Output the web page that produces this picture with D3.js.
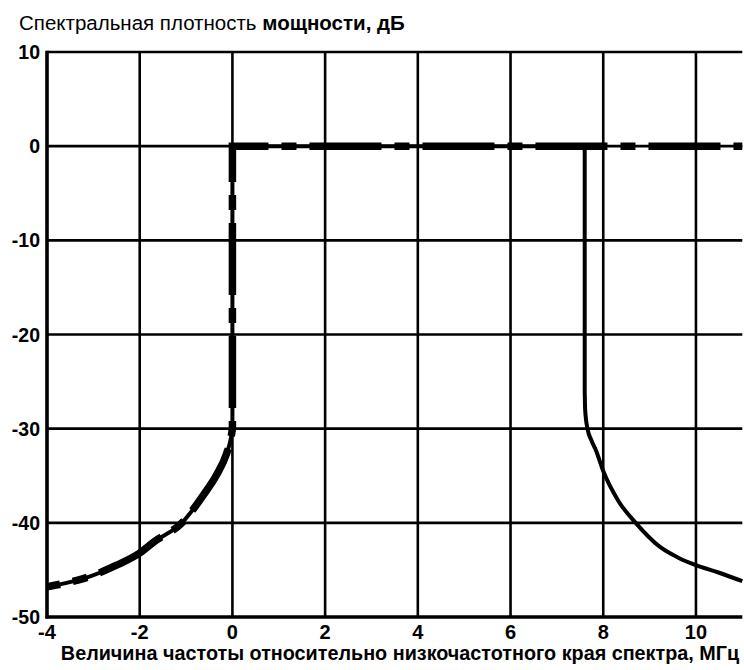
<!DOCTYPE html>
<html>
<head>
<meta charset="utf-8">
<script src="https://cdn.jsdelivr.net/npm/d3@7"></script>
<style>
  html, body { margin: 0; padding: 0; background: #fff; }
  svg { display: block; font-family: "Liberation Sans", Arial, sans-serif; }
</style>
</head>
<body>
<svg id="chart" width="744" height="670"></svg>
<script>
// Axis ticks
const freqTicks = [-4, -2, 0, 2, 4, 6, 8, 10];
const levelTicks = [10, 0, -10, -20, -30, -40, -50];

// Lower skirt shared by both masks (MHz, dB)
const lowSkirtFreq  = [-4, -3.6, -3.2, -2.5, -2.0, -1.69, -1.09, -0.62, -0.34, -0.13, -0.04, 0];
const lowSkirtLevel = [-46.8, -46.4, -45.9, -44.5, -43.2, -42.0, -40.0, -37.0, -34.9, -32.7, -31.2, -30];

// Passband
const bandLevel = 0;
const bandStart = 0;
const solidBandEnd = 7.6;
const dashedBandEnd = 11;

// Upper skirt of the solid mask (MHz, dB)
const highSkirtFreq  = [7.6, 7.61, 7.66, 7.75, 7.85, 8.0, 8.33, 8.7, 9.21, 9.62, 10.0, 10.5, 11.0];
const highSkirtLevel = [-26, -28, -30, -31.3, -32.4, -34.5, -37.7, -40, -42.5, -43.7, -44.5, -45.3, -46.2];

const svg = d3.select("#chart");
const x = d3.scaleLinear().domain([-4, 11]).range([47, 742.3]);
const y = d3.scaleLinear().domain([-50, 10]).range([617, 52]);

const X0 = x(-4), Y0 = y(-50), YT = y(10);

// Grid
const grid = svg.append("g").attr("stroke", "#000").attr("stroke-width", 2.6);
grid.selectAll("line.v").data(freqTicks.filter(d => d > -4)).join("line")
  .attr("x1", d => x(d)).attr("x2", d => x(d))
  .attr("y1", YT).attr("y2", Y0);
grid.selectAll("line.h").data(levelTicks.filter(d => d > -50)).join("line")
  .attr("x1", X0).attr("x2", x(11))
  .attr("y1", d => y(d)).attr("y2", d => y(d));

// Axes frame (left and bottom)
svg.append("line").attr("x1", X0).attr("x2", X0).attr("y1", YT - 1.3).attr("y2", Y0 + 1.5)
  .attr("stroke", "#000").attr("stroke-width", 3.6);
svg.append("line").attr("x1", X0 - 1.5).attr("x2", x(11)).attr("y1", Y0).attr("y2", Y0)
  .attr("stroke", "#000").attr("stroke-width", 3.4);

// Tick labels
svg.append("g").selectAll("text").data(levelTicks).join("text")
  .attr("x", X0 - 7).attr("y", d => y(d))
  .attr("text-anchor", "end").attr("dominant-baseline", "central")
  .attr("font-size", 19.5).attr("font-weight", "bold")
  .text(d => d);
svg.append("g").selectAll("text").data(freqTicks).join("text")
  .attr("x", d => x(d)).attr("y", 638.5)
  .attr("text-anchor", "middle")
  .attr("font-size", 20).attr("font-weight", "bold")
  .text(d => d);

// Titles
const title = svg.append("text").attr("x", 19).attr("y", 29.5).attr("font-size", 20.5);
title.append("tspan").text("Спектральная плотность ");
title.append("tspan").attr("font-weight", "bold").text("мощности, дБ");
svg.append("text").attr("x", 400).attr("y", 660).attr("text-anchor", "middle")
  .attr("font-size", 19.8).attr("font-weight", "bold")
  .text("Величина частоты относительно низкочастотного края спектра, МГц");

// Path builders
const smooth = d3.line().x(d => x(d[0])).y(d => y(d[1])).curve(d3.curveMonotoneX);
const straight = d3.line().x(d => x(d[0])).y(d => y(d[1]));
function joined(parts) {
  return parts.map((p, i) => i === 0 ? p : p.replace(/^M/, "L")).join("");
}
const lowSkirt = lowSkirtFreq.map((f, i) => [f, lowSkirtLevel[i]]);
const highSkirt = highSkirtFreq.map((f, i) => [f, highSkirtLevel[i]]);
const lowEnd = lowSkirt[lowSkirt.length - 1];

const solidD = joined([
  smooth(lowSkirt),
  straight([lowEnd, [bandStart, bandLevel], [solidBandEnd, bandLevel], highSkirt[0]]),
  smooth(highSkirt)
]);
const dashedD = joined([
  smooth(lowSkirt),
  straight([lowEnd, [bandStart, bandLevel], [dashedBandEnd, bandLevel]])
]);

svg.append("path").attr("d", solidD)
  .attr("fill", "none").attr("stroke", "#000").attr("stroke-width", 4)
  .attr("stroke-linejoin", "miter");

// Dash pattern placed so the corner at the band start sits inside a long dash
const pattern = [72, 13, 15, 13];
const period = d3.sum(pattern);
const probe = svg.append("path")
  .attr("d", joined([smooth(lowSkirt), straight([lowEnd, [bandStart, bandLevel]])]))
  .attr("fill", "none");
const cornerLen = probe.node().getTotalLength();
probe.remove();
const offset = ((pattern[0] / 2 - cornerLen) % period + period) % period;

svg.append("path").attr("d", dashedD)
  .attr("fill", "none").attr("stroke", "#000").attr("stroke-width", 7.5)
  .attr("stroke-linejoin", "miter")
  .attr("stroke-dasharray", pattern.join(" "))
  .attr("stroke-dashoffset", offset);
</script>
</body>
</html>
